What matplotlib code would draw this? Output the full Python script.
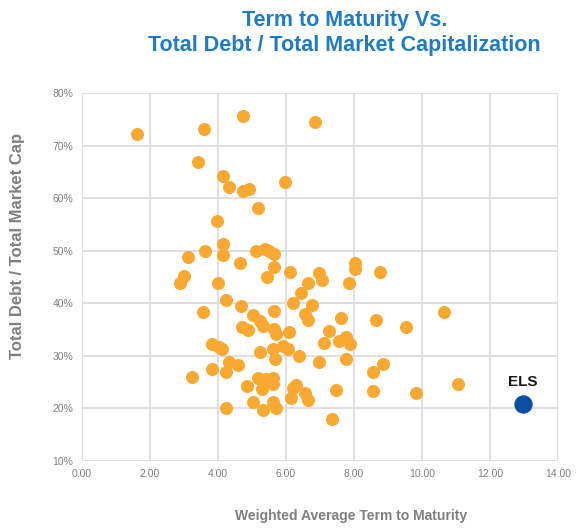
import matplotlib.pyplot as plt
from matplotlib.ticker import FuncFormatter

plt.rcParams['font.family'] = ['Liberation Sans', 'DejaVu Sans']

# peers: weighted average term to maturity (years), total debt / total market cap (%)
peer_term = [
    1.61, 3.60, 4.73, 6.86, 3.43, 4.14, 4.33, 4.73, 4.92, 5.98,
    5.18, 3.98, 4.15, 4.14, 3.62, 3.11, 4.64, 5.12, 5.37, 5.51,
    5.66, 5.64, 5.45, 6.13, 3.01, 2.89, 4.01, 4.25, 4.69, 3.55,
    5.04, 5.64, 4.70, 4.88, 5.25, 5.33, 5.66, 5.71, 6.10, 6.96,
    7.05, 6.64, 7.85, 8.04, 8.04, 8.75, 6.45, 6.21, 6.77, 6.55,
    6.64, 7.62, 8.65, 9.54, 10.64, 7.26, 7.13, 7.55, 7.77, 7.88,
    3.83, 4.04, 4.12, 5.23, 5.63, 5.91, 6.07, 5.68, 6.38, 6.96,
    7.77, 8.85, 8.57, 4.34, 4.60, 3.83, 4.24, 3.25, 5.17, 5.42,
    5.63, 4.86, 5.30, 5.63, 6.30, 6.20, 6.55, 6.15, 6.64, 5.04,
    5.32, 5.63, 5.71, 4.24, 7.46, 8.57, 7.36, 9.83, 11.05,
]
peer_debt = [
    72.1, 73.1, 75.6, 74.4, 66.8, 64.2, 62.2, 61.3, 61.8, 63.0,
    58.2, 55.7, 51.3, 49.2, 50.0, 48.7, 47.6, 50.0, 50.4, 50.0,
    49.4, 46.8, 45.0, 45.9, 45.1, 43.9, 43.8, 40.7, 39.5, 38.3,
    37.7, 38.6, 35.5, 35.0, 36.6, 35.6, 35.1, 34.2, 34.6, 45.8,
    44.4, 43.9, 43.9, 47.7, 46.5, 45.9, 41.9, 40.1, 39.6, 37.9,
    36.8, 37.2, 36.9, 35.4, 38.3, 34.8, 32.4, 32.8, 33.6, 32.2,
    32.3, 31.7, 31.2, 30.7, 31.2, 31.9, 31.3, 29.3, 30.0, 28.8,
    29.3, 28.4, 26.9, 28.9, 28.2, 27.5, 26.9, 26.0, 25.8, 25.6,
    25.8, 24.2, 23.6, 24.6, 24.5, 23.8, 23.0, 22.0, 21.5, 21.2,
    19.7, 21.2, 20.1, 20.0, 23.5, 23.3, 18.0, 22.9, 24.6,
]
els_term = [12.97]
els_debt = [20.8]
els_label = "ELS"

x_ticks = [0, 2, 4, 6, 8, 10, 12, 14]
y_ticks = [10, 20, 30, 40, 50, 60, 70, 80]

fig = plt.figure(figsize=(5.76, 5.28), dpi=100)
ax = fig.add_axes([0.142, 0.127, 0.827, 0.697])

ax.scatter(peer_term, peer_debt, s=88, color="#F9A931", linewidths=0, zorder=3)
ax.scatter(els_term, els_debt, s=175, color="#0B4EA2", linewidths=0, zorder=4)
ax.annotate(els_label, (els_term[0], els_debt[0]), xytext=(0, 11),
            textcoords="offset points", ha="center", va="bottom",
            fontsize=11, fontweight="bold", color="#1A1A1A")

ax.set_xlim(0, 14)
ax.set_ylim(10, 80)
ax.set_xticks(x_ticks)
ax.set_yticks(y_ticks)
ax.xaxis.set_major_formatter(FuncFormatter(lambda v, _: f"{v:.2f}"))
ax.yaxis.set_major_formatter(FuncFormatter(lambda v, _: f"{v:.0f}%"))
ax.tick_params(length=0, labelsize=7.5, labelcolor="#7F7F7F", pad=6)
ax.grid(True, color="#DADADA", linewidth=1.2)
ax.set_axisbelow(True)
for s in ax.spines.values():
    s.set_visible(False)

ax.set_xlabel("Weighted Average Term to Maturity", fontsize=10,
              fontweight="bold", color="#7F7F7F")
ax.xaxis.set_label_coords(0.565, -0.13)
ax.set_ylabel("Total Debt / Total Market Cap", fontsize=12,
              fontweight="bold", color="#7F7F7F")
ax.yaxis.set_label_coords(-0.12, 0.585)

fig.text(0.598, 0.982, "Term to Maturity Vs.\nTotal Debt / Total Market Capitalization",
         ha="center", va="top", fontsize=15.5, fontweight="bold",
         color="#1F7BC4", linespacing=1.3)

fig.savefig("out.png", dpi=100)
